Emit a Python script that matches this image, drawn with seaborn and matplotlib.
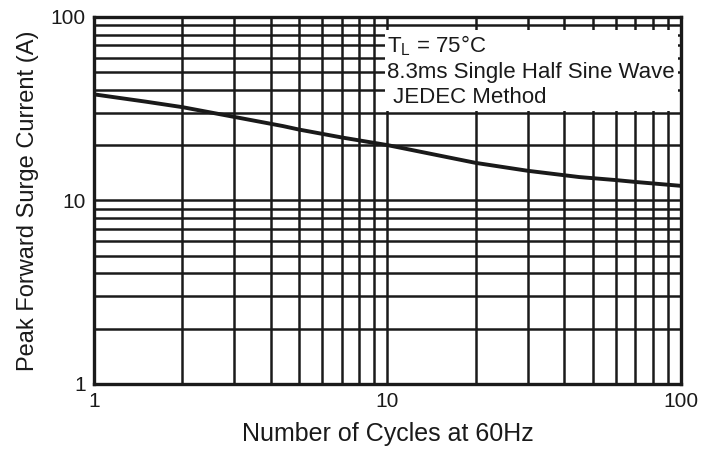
import pandas as pd
import matplotlib.pyplot as plt
import seaborn as sns

# cycles at 60Hz and peak forward surge current (A)
ciclos = [1, 1.5, 2, 3, 4.4, 5, 7, 10, 20, 30, 45, 60, 70, 100]
corrente = [37.8, 34.5, 32.2, 28.5, 25.4, 24.3, 22.0, 20.0, 16.0, 14.5, 13.4, 12.9, 12.6, 12.0]

x_ticks = [1, 10, 100]
y_ticks = [1, 10, 100]
tick_labels = ['1', '10', '100']

nota = 'T$_\\mathregular{L}$ = 75°C\n8.3ms Single Half Sine Wave\n JEDEC Method'

df = pd.DataFrame({'ciclos': ciclos, 'corrente': corrente})

sns.set_style('white')
plt.rcParams['font.family'] = ['Liberation Sans', 'DejaVu Sans']
plt.rcParams['mathtext.fontset'] = 'custom'
plt.rcParams['mathtext.rm'] = 'Liberation Sans'

fig = plt.figure(figsize=(7.14, 4.5), dpi=100)
ax = fig.add_axes([0.1317, 0.1467, 0.822, 0.816])

sns.lineplot(data=df, x='ciclos', y='corrente', color='#1a1a1a', linewidth=2.8, ax=ax)

ax.set_xscale('log')
ax.set_yscale('log')
ax.set_xlim(1, 100)
ax.set_ylim(1, 100)
ax.set_xticks(x_ticks)
ax.set_xticklabels(tick_labels)
ax.set_yticks(y_ticks)
ax.set_yticklabels(tick_labels)
ax.minorticks_on()
ax.tick_params(which='both', length=0, labelsize=15, colors='#1a1a1a', pad=6)
ax.xaxis.set_minor_formatter(plt.NullFormatter())
ax.yaxis.set_minor_formatter(plt.NullFormatter())
ax.grid(True, which='both', color='#1a1a1a', linewidth=1.8)
for s in ax.spines.values():
    s.set_color('#1a1a1a')
    s.set_linewidth(2.4)

ax.set_xlabel('Number of Cycles at 60Hz', fontsize=18, color='#1a1a1a', labelpad=8)
ax.set_ylabel('Peak Forward Surge Current (A)', fontsize=17, color='#1a1a1a', labelpad=8)

# white box over the grid, kept under the frame
ax.text(0.50, 0.955, nota, transform=ax.transAxes, ha='left', va='top', fontsize=16,
        color='#1a1a1a', linespacing=1.25, zorder=2.2,
        bbox=dict(facecolor='white', edgecolor='none', pad=2))

plt.savefig('out.png', dpi=100)
